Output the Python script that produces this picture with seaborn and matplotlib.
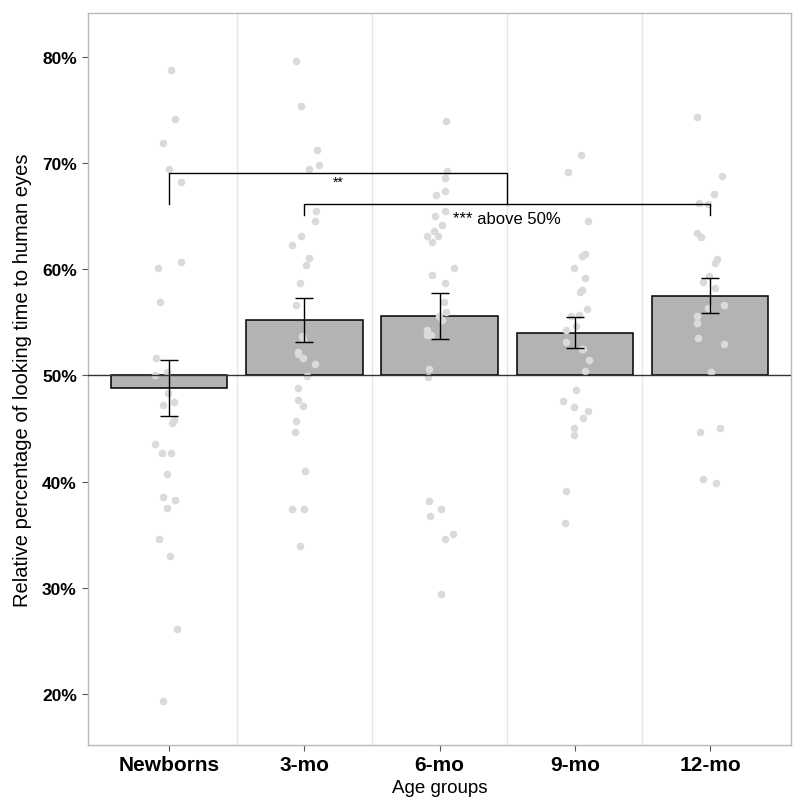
import numpy as np
import pandas as pd
import matplotlib
matplotlib.use("Agg")
import matplotlib.pyplot as plt
import seaborn as sns
from matplotlib.ticker import FixedLocator, FuncFormatter

# datos
groups = ["Newborns", "3-mo", "6-mo", "9-mo", "12-mo"]
means = [48.8, 55.2, 55.6, 54.0, 57.5]
se = [2.59, 2.10, 2.15, 1.48, 1.68]

newborns = [78.7, 74.1, 71.9, 69.4, 68.2, 60.7, 60.1, 56.9, 51.6, 50.3, 50.0,
            48.3, 47.5, 47.2, 45.8, 45.5, 43.5, 42.7, 42.7, 40.7, 38.5, 38.3,
            37.5, 34.6, 33.0, 26.1, 19.3]
mo3 = [79.6, 75.3, 71.2, 69.8, 69.4, 65.5, 64.5, 63.1, 62.3, 61.0, 60.4, 58.7,
       56.6, 53.7, 53.4, 52.2, 52.0, 51.6, 51.1, 49.9, 48.8, 47.7, 47.1, 45.7,
       44.7, 41.0, 37.4, 37.4, 33.9]
mo6 = [73.9, 69.2, 68.6, 67.3, 67.0, 65.5, 65.0, 64.1, 63.6, 63.1, 63.1, 62.5,
       60.1, 59.4, 58.7, 56.9, 56.0, 55.6, 55.2, 54.3, 53.8, 53.8, 50.6, 49.8,
       38.2, 37.4, 36.8, 35.1, 34.6, 29.4]
mo9 = [70.7, 69.1, 64.5, 61.4, 61.2, 60.1, 59.2, 58.0, 57.8, 56.2, 55.7, 55.6,
       54.6, 54.3, 53.1, 52.5, 52.5, 51.4, 50.4, 48.6, 47.6, 47.0, 46.6, 46.0,
       45.0, 44.4, 39.1, 36.1]
mo12 = [74.3, 68.8, 67.1, 66.2, 66.1, 63.4, 63.0, 60.9, 60.6, 59.3, 58.8, 58.2,
        56.6, 56.3, 55.6, 54.9, 53.5, 52.9, 50.3, 45.0, 44.7, 40.2, 39.9]

points = pd.DataFrame({
    "grupo": np.repeat(groups, [len(newborns), len(mo3), len(mo6), len(mo9), len(mo12)]),
    "valor": newborns + mo3 + mo6 + mo9 + mo12,
})
bars = pd.DataFrame({"grupo": groups, "altura": np.array(means) - 50})

plt.rcParams["font.family"] = ["Liberation Sans", "DejaVu Sans"]
fig = plt.figure(figsize=(8, 8.03), dpi=100)
ax = fig.add_axes([0.11, 0.071, 0.879, 0.9116])

# barras desde 50%
sns.barplot(data=bars, x="grupo", y="altura", bottom=50, errorbar=None,
            color="#b3b3b3", saturation=1, width=0.86, edgecolor="black",
            linewidth=1.1, zorder=2, ax=ax)

# puntos individuales
np.random.seed(3)
sns.stripplot(data=points, x="grupo", y="valor", color="#dadada", size=5.5,
              jitter=0.11, linewidth=0, zorder=3, ax=ax)

# error estándar
ax.errorbar(range(len(groups)), means, yerr=se, fmt="none", ecolor="black",
            elinewidth=1, capsize=6.5, capthick=1, zorder=4)
ax.axhline(50, color="#333333", lw=1, zorder=5)

# comparaciones
ax.plot([0, 0, 2.5, 2.5], [66.15, 69.07, 69.07, 66.15], color="black", lw=1, zorder=5)
ax.plot([1, 1, 4, 4], [65.1, 66.15, 66.15, 65.1], color="black", lw=1, zorder=5)
ax.text(1.25, 68.2, "**", ha="center", va="center", fontsize=10)
ax.text(2.5, 64.75, "*** above 50%", ha="center", va="center", fontsize=12)

ax.set_xlim(-0.6, 4.6)
ax.set_ylim(15.2, 84.1)
ax.set_yticks([20, 30, 40, 50, 60, 70, 80])
ax.yaxis.set_major_formatter(FuncFormatter(lambda v, p: f"{v:.0f}%"))
ax.xaxis.set_minor_locator(FixedLocator(np.arange(len(groups) - 1) + 0.5))
ax.grid(which="minor", axis="x", color="#e6e6e6", lw=1, zorder=0)
ax.set_axisbelow(True)
ax.tick_params(which="minor", length=0)
ax.tick_params(which="major", length=4, color="#555555", width=0.8)
ax.tick_params(axis="x", labelsize=15, pad=3)
ax.tick_params(axis="y", labelsize=12.5, pad=4)
for lab in ax.get_xticklabels() + ax.get_yticklabels():
    lab.set_fontweight("bold")
for s in ax.spines.values():
    s.set_color("#b8b8b8")
    s.set_linewidth(1)

ax.set_xlabel("Age groups", fontsize=13.5, labelpad=4)
ax.set_ylabel("Relative percentage of looking time to human eyes", fontsize=14.5, labelpad=7)

fig.savefig("out.png", dpi=100)
